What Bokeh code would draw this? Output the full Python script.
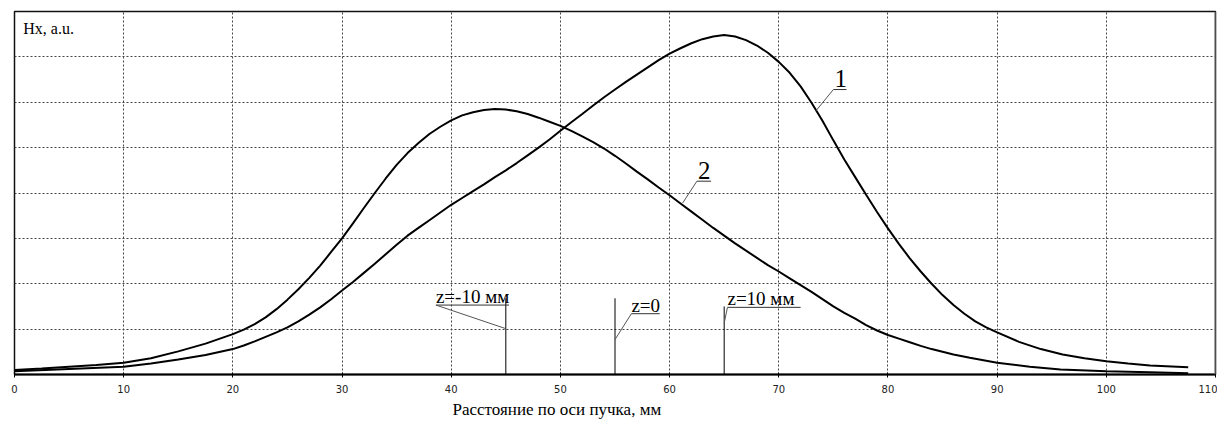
from bokeh.plotting import figure
from bokeh.models import Range1d, FixedTicker, Span, Title
from bokeh.core.properties import value
from bokeh.embed import file_html
from bokeh.resources import INLINE

# Curve 1 (peak near 65 mm)
x1 = [0, 5, 10, 12.5, 15, 17.5, 20, 21, 22, 23, 24, 25, 26, 27, 28, 29, 30, 31, 32, 33, 34, 35, 36, 37, 38,
      39, 40, 41, 42, 43, 44, 45, 46, 47, 48, 49, 50, 51, 52, 53, 54, 55, 56, 57, 58, 59, 60, 61, 62, 63, 64,
      65, 66, 67, 68, 69, 70, 71, 72, 73, 74, 75, 76, 77, 78, 79, 80, 81, 82, 83, 84, 85, 86, 87, 88, 89, 90,
      92, 94, 96, 98, 100, 102, 104, 107.5]
y1 = [0.07, 0.12, 0.17, 0.24, 0.33, 0.43, 0.56, 0.64, 0.73, 0.83, 0.93, 1.04, 1.17, 1.32, 1.48, 1.66, 1.85,
      2.04, 2.24, 2.44, 2.65, 2.86, 3.06, 3.23, 3.40, 3.57, 3.74, 3.89, 4.04, 4.19, 4.35, 4.50, 4.66, 4.83,
      5.00, 5.18, 5.37, 5.56, 5.74, 5.93, 6.11, 6.28, 6.45, 6.61, 6.77, 6.93, 7.07, 7.19, 7.30, 7.39, 7.45,
      7.48, 7.45, 7.37, 7.25, 7.09, 6.89, 6.65, 6.35, 5.99, 5.59, 5.16, 4.74, 4.35, 3.96, 3.58, 3.22, 2.88,
      2.56, 2.27, 2.00, 1.75, 1.53, 1.34, 1.17, 1.04, 0.93, 0.72, 0.56, 0.44, 0.36, 0.29, 0.24, 0.20, 0.16]

# Curve 2 (peak near 44 mm)
x2 = [0, 2.5, 5, 7.5, 10, 12.5, 15, 17.5, 20, 21, 22, 23, 24, 25, 26, 27, 28, 29, 30, 31, 32, 33, 34, 35,
      36, 37, 38, 39, 40, 41, 42, 43, 44, 45, 46, 47, 48, 49, 50, 51, 52, 53, 54, 55, 56, 57, 58, 59, 60, 61,
      62, 63, 64, 65, 66, 67, 68, 69, 70, 71, 72, 73, 74, 75, 76, 77, 78, 79, 80, 81, 82, 83, 84, 85, 86,
      87.5, 90, 93, 95.8, 100, 104, 107.5]
y2 = [0.10, 0.13, 0.17, 0.21, 0.26, 0.36, 0.51, 0.68, 0.89, 0.99, 1.11, 1.26, 1.44, 1.65, 1.88, 2.13, 2.40,
      2.70, 3.00, 3.33, 3.67, 4.00, 4.32, 4.62, 4.88, 5.10, 5.30, 5.46, 5.60, 5.71, 5.78, 5.83, 5.85, 5.84,
      5.80, 5.74, 5.66, 5.57, 5.48, 5.37, 5.25, 5.12, 4.98, 4.82, 4.65, 4.47, 4.30, 4.12, 3.95, 3.77, 3.59,
      3.41, 3.23, 3.06, 2.89, 2.73, 2.57, 2.41, 2.27, 2.12, 1.97, 1.82, 1.66, 1.50, 1.36, 1.23, 1.09, 0.97,
      0.87, 0.79, 0.71, 0.63, 0.56, 0.50, 0.44, 0.37, 0.26, 0.17, 0.11, 0.07, 0.05, 0.03]

x_ticks = [0, 10, 20, 30, 40, 50, 60, 70, 80, 90, 100, 110]
y_grid = [0, 1, 2, 3, 4, 5, 6, 7, 8]

# Position markers
marker_x = [45, 55, 65]
marker_top = [1.68, 1.68, 1.5]
marker_text = ["z=-10 мм", "z=0", "z=10 мм"]
tag_x0 = [38.6, 56.5, 65.3]
tag_x1 = [45.3, 59.1, 72.0]
tag_y = [1.53, 1.34, 1.48]
leader_y = [1.01, 0.77, 1.13]

# Curve tags
curve_text = ["1", "2"]
ctag_x0 = [75.0, 62.5]
ctag_x1 = [76.2, 63.8]
ctag_y = [6.28, 4.26]
cleader_x = [73.4, 61.2]
cleader_y = [5.81, 3.78]

y_label = "Hx, a.u."
x_label = "Расстояние по оси пучка, мм"

SERIF = "Liberation Serif"
PX = 8 / 365.0  # data units per vertical pixel
K = 0.4         # baseline compensation (em)


def lift(fs, gap):
    return (gap + K * fs) * PX


p = figure(width=1217, height=420, output_backend="svg", toolbar_location=None,
           x_range=Range1d(0, 110), y_range=Range1d(0, 8),
           min_border_left=14, min_border_right=2, min_border_top=11, min_border_bottom=44,
           background_fill_color="white", border_fill_color="white")

p.outline_line_color = "#111111"
p.outline_line_width = 1.5

p.xaxis.ticker = FixedTicker(ticks=x_ticks)
p.xaxis.minor_tick_line_color = None
p.yaxis.visible = False
p.xaxis.axis_line_width = 2
p.xaxis.major_tick_out = 3
p.xaxis.major_tick_in = 2
p.xaxis.major_label_text_font = "DejaVu Sans"
p.xaxis.major_label_text_font_size = "10px"
p.xaxis.major_label_text_color = "#222222"
p.xaxis.major_label_standoff = 7

for g in (p.xgrid, p.ygrid):
    g.grid_line_color = "#444444"
    g.grid_line_dash = "2 2"
    g.grid_line_width = 1
p.ygrid.ticker = FixedTicker(ticks=y_grid)

p.add_layout(Span(location=110, dimension="height", line_color="#888888", line_width=2))

p.line(x1, y1, line_color="black", line_width=2)
p.line(x2, y2, line_color="black", line_width=2)

# markers
p.segment(x0=marker_x, y0=[0] * len(marker_x), x1=marker_x, y1=marker_top, line_color="black", line_width=1)
p.segment(x0=tag_x0, y0=tag_y, x1=tag_x1, y1=tag_y, line_color="#333333", line_width=1)
p.segment(x0=tag_x0, y0=tag_y, x1=marker_x, y1=leader_y, line_color="#555555", line_width=1)
p.text(x=tag_x0, y=[v + lift(19, 1) for v in tag_y], text=marker_text, text_font=value(SERIF),
       text_font_size=value("19px"), text_color="black", text_baseline="alphabetic", text_align="left")

# curve tags
p.segment(x0=ctag_x0, y0=ctag_y, x1=ctag_x1, y1=ctag_y, line_color="#333333", line_width=1)
p.segment(x0=ctag_x0, y0=ctag_y, x1=cleader_x, y1=cleader_y, line_color="#555555", line_width=1)
p.text(x=[v + 0.1 for v in ctag_x0], y=[v + lift(25, 1) for v in ctag_y], text=curve_text,
       text_font=value(SERIF), text_font_size=value("25px"), text_color="black",
       text_baseline="alphabetic", text_align="left")

p.text(x=[0.8], y=[7.48 + lift(16, 0)], text=[y_label], text_font=value(SERIF), text_font_size=value("16px"),
       text_color="black", text_baseline="alphabetic", text_align="left")

p.add_layout(Title(text=x_label, align="left", offset=438, standoff=4,
                   text_font=SERIF, text_font_size="17px", text_font_style="normal",
                   text_color="black"), "below")

open("out.html", "w").write(file_html(p, INLINE))
